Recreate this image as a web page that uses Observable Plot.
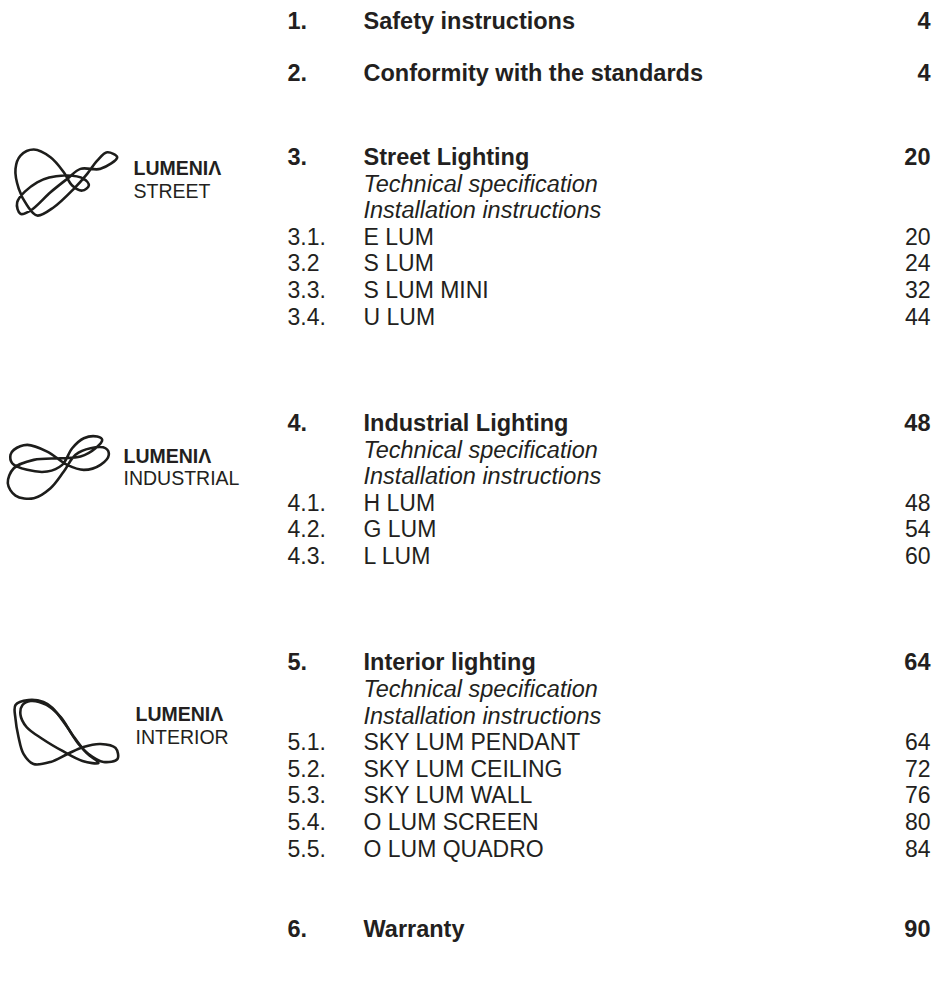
<!DOCTYPE html>
<html><head><meta charset="utf-8">
<script src="https://cdn.jsdelivr.net/npm/d3@7"></script>
<script src="https://cdn.jsdelivr.net/npm/@observablehq/plot@0.6"></script>
<style>html,body{margin:0;padding:0;background:#fff}svg{display:block}</style>
</head><body><div id="chart"></div>
<script>
// ---------- content ----------
const sectionNumbers = ["1.", "2.", "3.", "4.", "5.", "6."];
const sectionTitles = ["Safety instructions", "Conformity with the standards", "Street Lighting", "Industrial Lighting", "Interior lighting", "Warranty"];
const sectionPages = [4, 4, 20, 48, 64, 90];
const sectionBrands = [null, null, "STREET", "INDUSTRIAL", "INTERIOR", null];
const brandName = "LUMENIΛ";
const subtitleLines = ["Technical specification", "Installation instructions"];
const subNumbers = [[], [], ["3.1.", "3.2", "3.3.", "3.4."], ["4.1.", "4.2.", "4.3."], ["5.1.", "5.2.", "5.3.", "5.4.", "5.5."], []];
const subTitles = [[], [], ["E LUM", "S LUM", "S LUM MINI", "U LUM"], ["H LUM", "G LUM", "L LUM"], ["SKY LUM PENDANT", "SKY LUM CEILING", "SKY LUM WALL", "O LUM SCREEN", "O LUM QUADRO"], []];
const subPages = [[], [], [20, 24, 32, 44], [48, 54, 60], [64, 72, 76, 80, 84], []];

// logo outlines (traced shapes, local units); each stroke is one closed loop
const logoStreet = [
  [[116.7,21.7],[100,33.3],[80,33.3],[66.7,43.3],[50,56.7],[30,75],[20,78.3],[16.7,66.7],[36.7,46.7],[63.3,40],[83.3,43.3],[88.3,50],[81.7,55],[71.7,50],[63.3,36.7],[50,21.7],[33.3,14],[20,20],[15,33.3],[18.3,53.3],[26.7,70],[36.7,80],[53.3,71.7],[73.3,53.3],[86.7,38.3],[96.7,25],[106.7,16.7]]
];
const logoIndustrial = [
  [[13.3,28.3],[26.7,23.3],[46.7,30],[66.7,43.3],[83.3,48.3],[100,43.3],[108.3,33.3],[105,26.7],[90,26.7],[75,33.3],[63.3,50],[50,66.7],[33.3,76.7],[15,74],[7.3,61.7],[13.3,46.7],[33.3,38.3],[60,36.7],[80,35],[95,26.7],[101.7,18.3],[96.7,15],[83.3,16.7],[71.7,26.7],[61.7,43.3],[46.7,50],[26.7,48.3],[11.7,41.7],[10,33.3]]
];
const logoInterior = [
  [[15,58],[28,53],[43,55],[52,61],[66,79],[78,97],[88,107],[103,115],[117,112],[115,101],[100,97],[83,100],[67,107],[50,115],[33,117],[23,107],[18,90],[15,72]],
  [[30,54],[46,58],[60,70],[72,88],[86,106],[98,116],[82,114],[62,104],[42,92],[26,80],[20,68],[22,58]]
];

// ---------- layout ----------
const W = 933, H = 998;
const firstLine = 21, pitch = 26.6;
const gapLines = [0, 1.955, 3.16, 4, 4, 3.02];
const colNum = 287, colTitle = 363, colPage = 930;
const logoCfg = {
  STREET: {shape: logoStreet, ox: 0, oy: -22, tx: 133, t1: 11, t2: 34},
  INDUSTRIAL: {shape: logoIndustrial, ox: 0, oy: -2, tx: 123, t1: 33, t2: 55},
  INTERIOR: {shape: logoInterior, ox: 0, oy: -16, tx: 135, t1: 52, t2: 75}
};

const heads = [], italics = [], subs = [], brandText = [], logoPts = [];
let line = 0;
sectionTitles.forEach((title, i) => {
  line += gapLines[i];
  const y = firstLine + line * pitch;
  heads.push({num: sectionNumbers[i], title, page: sectionPages[i], y});
  const b = sectionBrands[i];
  if (b) {
    const c = logoCfg[b];
    brandText.push({text: brandName, y: y + c.t1, x: c.tx, bold: true});
    brandText.push({text: b, y: y + c.t2, x: c.tx, bold: false});
    c.shape.forEach((loop, k) => loop.forEach(p => logoPts.push({id: b + k, x: c.ox + p[0], y: y + c.oy + p[1]})));
    subtitleLines.forEach(s => { line += 1; italics.push({title: s, y: firstLine + line * pitch}); });
    subTitles[i].forEach((s, j) => { line += 1; subs.push({num: subNumbers[i][j], title: s, page: subPages[i][j], y: firstLine + line * pitch}); });
  }
});

const ink = "#231f20";
const fontMain = "'Liberation Sans', Arimo, Arial, sans-serif";
const fontLogo = "'Liberation Sans', Arimo, Arial, sans-serif";
const fsBold = 23.5, fsItalic = 23.5, fsReg = 23, fsLogo = 19.5;

const chart = Plot.plot({
  width: W, height: H, margin: 0,
  x: {domain: [0, W], range: [0, W], axis: null},
  y: {domain: [0, H], range: [0, H], axis: null},
  style: {background: "#fff"},
  marks: [
    Plot.line(logoPts, {x: "x", y: "y", z: "id", curve: "catmull-rom-closed", stroke: "#1d1d1b", strokeWidth: 2.6}),
    Plot.text(brandText.filter(d => d.bold), {x: "x", y: "y", text: "text", textAnchor: "start", fontFamily: fontLogo, fontWeight: 700, fontSize: fsLogo, fill: ink}),
    Plot.text(brandText.filter(d => !d.bold), {x: "x", y: "y", text: "text", textAnchor: "start", fontFamily: fontLogo, fontWeight: 400, fontSize: fsLogo, fill: ink}),
    Plot.text(heads, {x: () => colNum, y: "y", text: "num", textAnchor: "start", fontFamily: fontMain, fontWeight: 700, fontSize: fsBold, fill: ink}),
    Plot.text(heads, {x: () => colTitle, y: "y", text: "title", textAnchor: "start", fontFamily: fontMain, fontWeight: 700, fontSize: fsBold, fill: ink}),
    Plot.text(heads, {x: () => colPage, y: "y", text: d => String(d.page), textAnchor: "end", fontFamily: fontMain, fontWeight: 700, fontSize: fsBold, fill: ink}),
    Plot.text(italics, {x: () => colTitle, y: "y", text: "title", textAnchor: "start", fontFamily: fontMain, fontStyle: "italic", fontSize: fsItalic, fill: ink}),
    Plot.text(subs, {x: () => colNum, y: "y", text: "num", textAnchor: "start", fontFamily: fontMain, fontSize: fsReg, fill: ink}),
    Plot.text(subs, {x: () => colTitle, y: "y", text: "title", textAnchor: "start", fontFamily: fontMain, fontSize: fsReg, fill: ink}),
    Plot.text(subs, {x: () => colPage, y: "y", text: d => String(d.page), textAnchor: "end", fontFamily: fontMain, fontSize: fsReg, fill: ink})
  ]
});
document.getElementById("chart").appendChild(chart);
</script>
</body></html>
